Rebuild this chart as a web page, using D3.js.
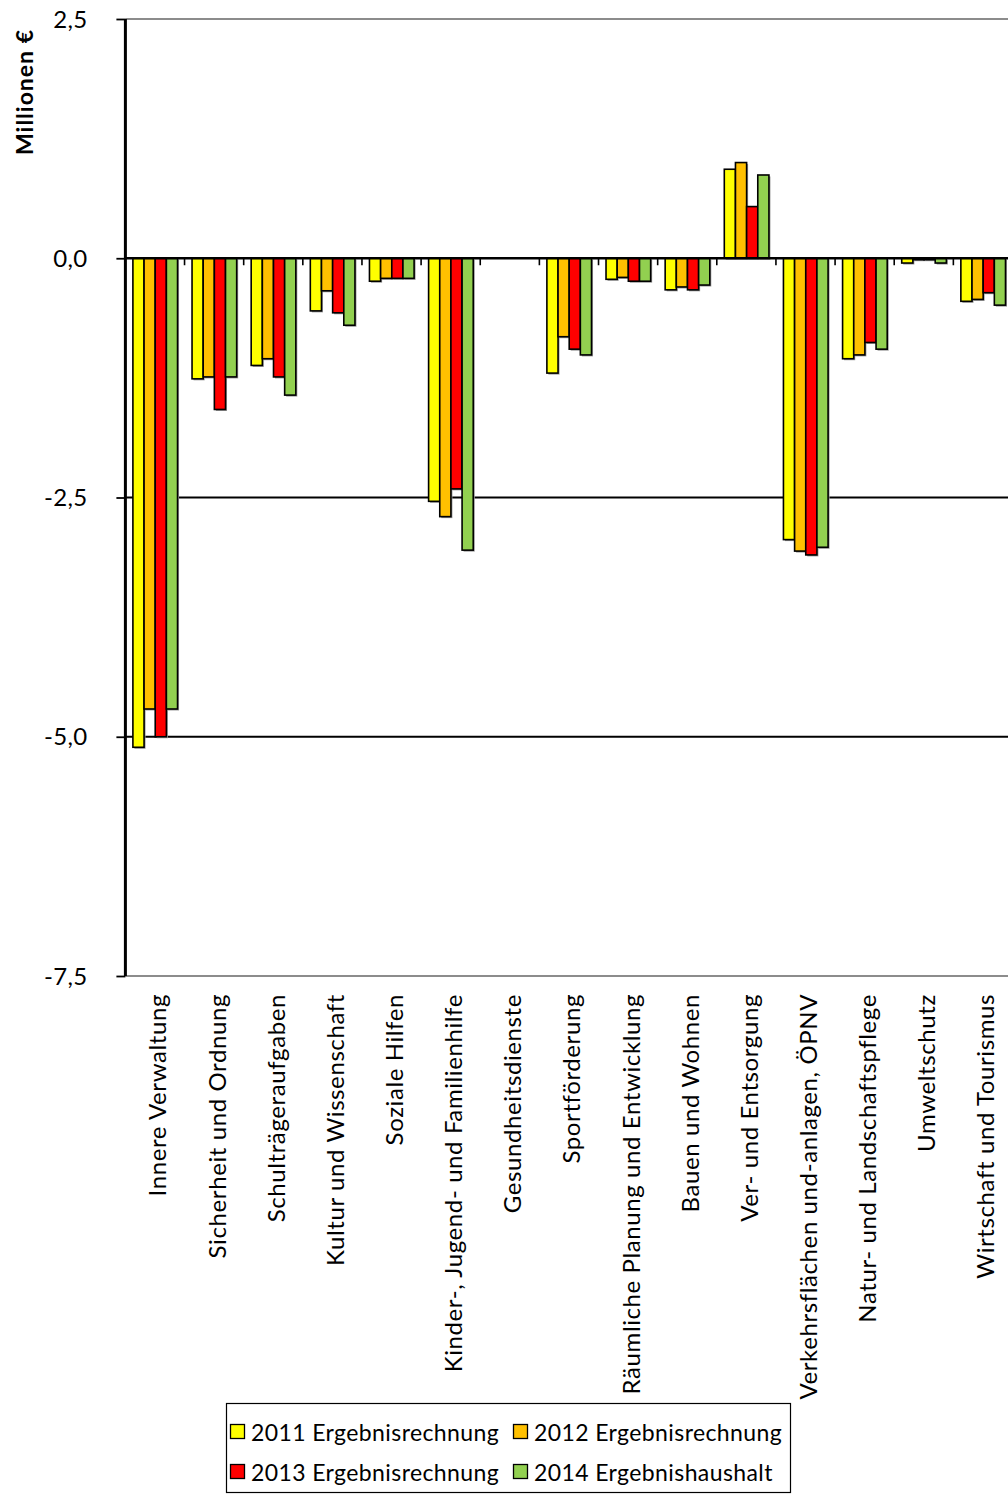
<!DOCTYPE html>
<html>
<head>
<meta charset="utf-8">
<script src="https://cdn.jsdelivr.net/npm/d3@7"></script>
<style>
  html, body { margin: 0; padding: 0; background: #fff; }
  svg { display: block; font-family: Lato, "Open Sans", sans-serif; }
</style>
</head>
<body>
<svg id="chart" width="1008" height="1494"></svg>
<script>
const categories = [
  "Innere Verwaltung",
  "Sicherheit und Ordnung",
  "Schulträgeraufgaben",
  "Kultur und Wissenschaft",
  "Soziale Hilfen",
  "Kinder-, Jugend- und Familienhilfe",
  "Gesundheitsdienste",
  "Sportförderung",
  "Räumliche Planung und Entwicklung",
  "Bauen und Wohnen",
  "Ver- und Entsorgung",
  "Verkehrsflächen und-anlagen, ÖPNV",
  "Natur- und Landschaftspflege",
  "Umweltschutz",
  "Wirtschaft und Tourismus"
];
const seriesNames = [
  "2011 Ergebnisrechnung",
  "2012 Ergebnisrechnung",
  "2013 Ergebnisrechnung",
  "2014 Ergebnishaushalt"
];
const values2011 = [-5.11, -1.26, -1.12, -0.55, -0.24, -2.54, 0, -1.20, -0.22, -0.33, 0.93, -2.94, -1.05, -0.05, -0.45];
const values2012 = [-4.71, -1.24, -1.05, -0.34, -0.21, -2.70, 0, -0.82, -0.20, -0.30, 1.00, -3.06, -1.01, -0.015, -0.43];
const values2013 = [-5.00, -1.58, -1.24, -0.57, -0.21, -2.41, 0, -0.95, -0.24, -0.33, 0.54, -3.10, -0.88, -0.015, -0.36];
const values2014 = [-4.71, -1.24, -1.43, -0.70, -0.21, -3.05, 0, -1.01, -0.24, -0.28, 0.87, -3.02, -0.95, -0.05, -0.49];
const seriesColors = ["#FFFF00", "#FFC000", "#FF0000", "#92D050"];
const yTickValues = [2.5, 0, -2.5, -5, -7.5];
const yTitle = "Millionen €";

const allValues = [values2011, values2012, values2013, values2014];

const svg = d3.select("#chart");
const plotLeft = 125.4, plotTop = 19, plotBottom = 976;
const step = 59.14;

const y = d3.scaleLinear().domain([-7.5, 2.5]).range([plotBottom, plotTop]);
const x0 = d3.scaleBand().domain(categories).range([plotLeft, plotLeft + step * categories.length]).padding(0);
const x1 = d3.scaleBand().domain(seriesNames).range([7.5, step - 7.0]).padding(0);

// horizontal grid / border lines
const gridColor = v => (v === 2.5 || v === -7.5) ? "#8c8c8c" : "#000";
svg.append("g").selectAll("line").data(yTickValues.filter(v => v !== 0)).join("line")
  .attr("x1", plotLeft).attr("x2", 1008)
  .attr("y1", d => y(d)).attr("y2", d => y(d))
  .attr("stroke", gridColor).attr("stroke-width", 2);

// bars
const barData = [];
categories.forEach((c, i) => {
  seriesNames.forEach((s, j) => {
    barData.push({ cat: c, series: s, value: allValues[j][i], color: seriesColors[j] });
  });
});
const barsG = svg.append("g");
const drawn = barData.filter(d => d.value !== 0);
barsG.selectAll("rect.shadow").data(drawn).join("rect").attr("class", "shadow")
  .attr("x", d => x0(d.cat) + x1(d.series) + 1.5)
  .attr("y", d => Math.min(y(d.value), y(0)) + 1.5)
  .attr("width", x1.bandwidth())
  .attr("height", d => Math.abs(y(d.value) - y(0)))
  .attr("fill", "#9a9a9a");
barsG.selectAll("rect.bar").data(drawn).join("rect").attr("class", "bar")
  .attr("x", d => x0(d.cat) + x1(d.series))
  .attr("y", d => Math.min(y(d.value), y(0)))
  .attr("width", x1.bandwidth())
  .attr("height", d => Math.abs(y(d.value) - y(0)))
  .attr("fill", d => d.color)
  .attr("stroke", "#000").attr("stroke-width", 1.6);

// zero axis line
svg.append("line").attr("x1", plotLeft).attr("x2", 1008)
  .attr("y1", y(0)).attr("y2", y(0)).attr("stroke", "#000").attr("stroke-width", 2.5);

// x ticks on zero line at category boundaries
svg.append("g").selectAll("line").data(categories.slice(1)).join("line")
  .attr("x1", d => x0(d)).attr("x2", d => x0(d))
  .attr("y1", y(0)).attr("y2", y(0) + 7)
  .attr("stroke", "#000").attr("stroke-width", 1.6);

// y axis
const yAxis = d3.axisLeft(y).tickValues(yTickValues).tickSize(9).tickPadding(29)
  .tickFormat(d => d3.format(".1f")(d).replace(".", ",").replace("−", "-"));
const yG = svg.append("g").attr("transform", `translate(${plotLeft},0)`).call(yAxis);
yG.attr("font-size", null).attr("font-family", null);
yG.select(".domain").attr("stroke", "#000").attr("stroke-width", 3).attr("d", `M0,${plotTop}V${plotBottom}`);
yG.selectAll(".tick line").attr("stroke", "#000").attr("stroke-width", 1.8);
yG.selectAll(".tick text").attr("fill", "#000")
  .style("font-size", "24px").style("letter-spacing", "0.3px")
  .style("font-family", "Lato, 'Open Sans', sans-serif").attr("dy", "0.34em");

// y title
svg.append("text").attr("transform", "translate(33,92) rotate(-90)")
  .attr("text-anchor", "middle").attr("font-weight", "bold")
  .style("font-size", "23px").style("letter-spacing", "1px")
  .attr("fill", "#000").text(yTitle);

// x labels
svg.append("g").selectAll("text").data(categories).join("text")
  .attr("transform", d => `translate(${x0(d) + x0.bandwidth() / 2 + 11.5},994) rotate(-90)`)
  .attr("text-anchor", "end").style("font-size", "24px").style("letter-spacing", "0.6px")
  .attr("fill", "#000")
  .text(d => d);

// legend
const legend = svg.append("g");
legend.append("rect").attr("x", 226.5).attr("y", 1403.5).attr("width", 564).attr("height", 89)
  .attr("fill", "#fff").attr("stroke", "#000").attr("stroke-width", 1.2);
const legPos = [
  { x: 230, y: 1424 }, { x: 513, y: 1424 },
  { x: 230, y: 1464 }, { x: 513, y: 1464 }
];
const legItems = legend.selectAll("g.item").data(seriesNames).join("g").attr("class", "item")
  .attr("transform", (d, i) => `translate(${legPos[i].x},${legPos[i].y})`);
legItems.append("rect").attr("x", 0.5).attr("y", 0.5).attr("width", 14).attr("height", 14)
  .attr("fill", (d, i) => seriesColors[i]).attr("stroke", "#000").attr("stroke-width", 1.3);
legItems.append("text").attr("x", 21).attr("y", 17).style("font-size", "23px")
  .style("letter-spacing", "0.4px").attr("fill", "#000")
  .text(d => d);
</script>
</body>
</html>
